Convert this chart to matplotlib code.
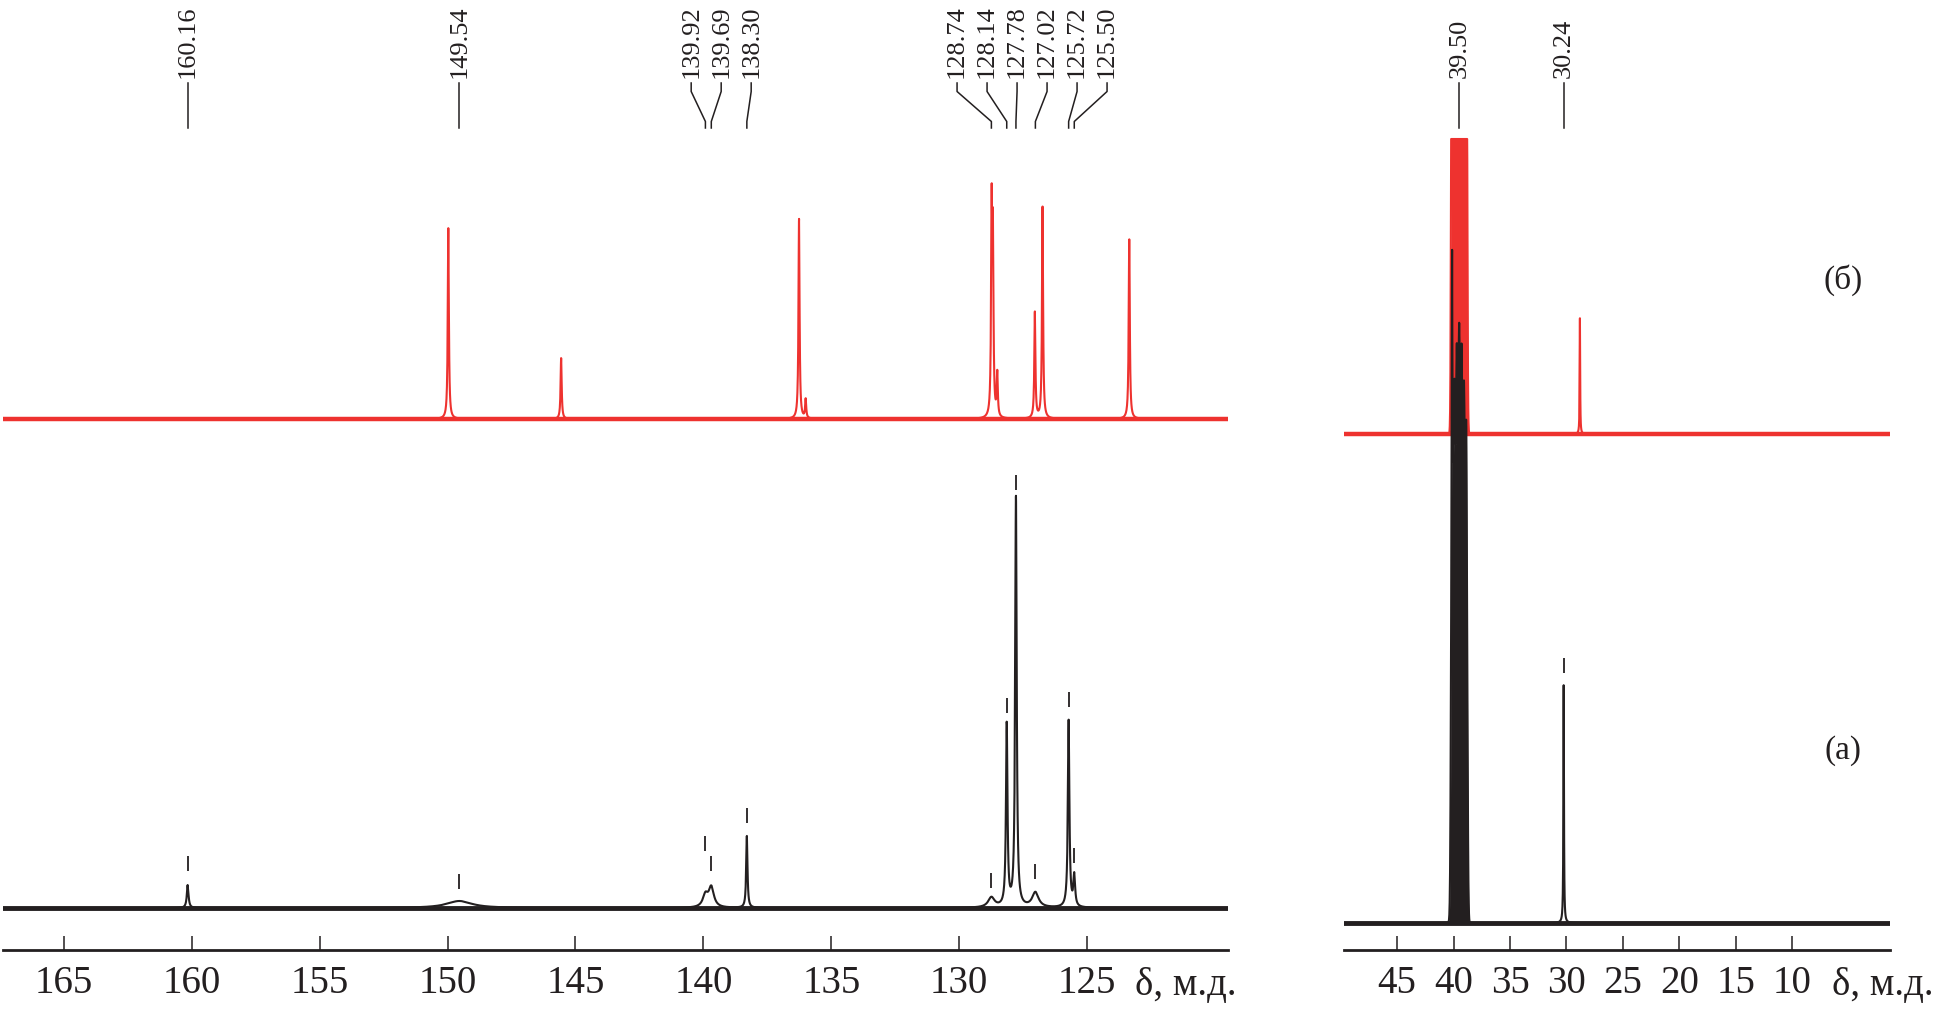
import numpy as np
import matplotlib.pyplot as plt
from matplotlib.transforms import blended_transform_factory

plt.rcParams['font.family'] = ['Liberation Serif', 'DejaVu Serif']

# -------------------------------------------------
# picos: ppm, altura (px sobre la linea base), semiancho (ppm)
# espectro (a), negro, zona aromatica
a_arom_ppm = [160.16, 149.54, 139.92, 139.69, 138.30, 128.74, 128.14, 127.78, 127.02, 125.72, 125.50]
a_arom_h = [23, 7, 12, 20, 72, 10, 182, 410, 15, 187, 31]
a_arom_w = [0.04, 0.6, 0.12, 0.12, 0.03, 0.15, 0.035, 0.035, 0.15, 0.035, 0.04]
a_arom_marca = [37, 19, 57, 37, 85, 20, 195, 418, 29, 201, 45]

# espectro (б), rojo, zona aromatica
b_arom_ppm = [149.97, 145.56, 136.26, 136.00, 128.73, 128.68, 128.51, 127.04, 126.74, 123.35]
b_arom_h = [191, 61, 200, 19, 201, 169, 43, 106, 212, 180]

# zona alifatica: septete del DMSO (gaussianas) + picos finos
dmso_ppm = [40.13, 39.92, 39.71, 39.50, 39.29, 39.08, 38.87]
a_dmso_h = [480, 495, 530, 550, 530, 495, 475]
b_dmso_h = [600, 900, 1100, 1200, 1100, 900, 600]
b_recorte = 295

a_alif_ppm = [40.13, 30.24]
a_alif_h = [170, 238]
a_alif_marca = [None, 250]
b_alif_ppm = [28.80]
b_alif_h = [116]

etiq_izq = ['160.16', '149.54', '139.92', '139.69', '138.30', '128.74',
            '128.14', '127.78', '127.02', '125.72', '125.50']
etiq_der = ['39.50', '30.24']

ticks_izq = [165, 160, 155, 150, 145, 140, 135, 130, 125]
ticks_der = [45, 40, 35, 30, 25, 20, 15, 10]

ROJO = '#EE322F'
NEGRO = '#231F20'
W, H = 1943, 1013


def lorentz(x, ppm, alturas, anchos):
    y = np.zeros_like(x)
    for p, h, w in zip(ppm, alturas, anchos):
        y += h / (1 + ((x - p) / w) ** 2)
    return y


def gauss(x, ppm, alturas, s):
    y = np.zeros_like(x)
    for p, h in zip(ppm, alturas):
        y += h * np.exp(-0.5 * ((x - p) / s) ** 2)
    return y


def repartir(xs, sep):
    # separa las etiquetas que se pisan, centrando cada grupo
    grupos = [[v] for v in xs]
    while True:
        pos = []
        for g in grupos:
            c = np.mean(g)
            pos.append([c + sep * (i - (len(g) - 1) / 2) for i in range(len(g))])
        junto = False
        for i in range(len(grupos) - 1):
            if pos[i + 1][0] - pos[i][-1] < sep:
                grupos[i] = grupos[i] + grupos[i + 1]
                del grupos[i + 1]
                junto = True
                break
        if not junto:
            return [v for p in pos for v in p]


def fy(ypx):
    return 1 - ypx / H


fig = plt.figure(figsize=(W / 100, H / 100), dpi=100)
ax1 = fig.add_axes([3 / W, fy(950), 1225 / W, 950 / H])
ax2 = fig.add_axes([1344 / W, fy(950), 546 / W, 950 / H])

ax1.set_xlim(167.38, 119.49)
ax1.set_ylim(-42, 908)
ax2.set_xlim(49.71, 1.32)
ax2.set_ylim(-27, 923)

desp_rojo = 489

# panel izquierdo
x1 = np.linspace(119.49, 167.38, 14000)
y_rojo = lorentz(x1, b_arom_ppm, b_arom_h, [0.025] * len(b_arom_ppm))
y_negro = lorentz(x1, a_arom_ppm, a_arom_h, a_arom_w)
ax1.plot(x1, y_rojo + desp_rojo, color=ROJO, lw=1.5, zorder=2)
ax1.axhline(desp_rojo, color=ROJO, lw=3.2, zorder=2)
ax1.plot(x1, y_negro, color=NEGRO, lw=1.5, zorder=3)
ax1.axhline(0, color=NEGRO, lw=3.5, zorder=3)

# panel derecho
x2 = np.linspace(1.32, 49.71, 16000)
zona = (x2 > 38.3) & (x2 < 40.7)
y_rojo2 = np.minimum(gauss(x2, dmso_ppm, b_dmso_h, 0.07), b_recorte)
y_rojo2 += lorentz(x2, b_alif_ppm, b_alif_h, [0.025])
y_negro2 = gauss(x2, dmso_ppm, a_dmso_h, 0.085)
y_negro2 += lorentz(x2, a_alif_ppm, a_alif_h, [0.02, 0.03])
ax2.plot(x2, y_rojo2 + desp_rojo, color=ROJO, lw=1.5, zorder=2)
ax2.fill_between(x2, desp_rojo, y_rojo2 + desp_rojo, where=zona, color=ROJO, lw=0, zorder=2)
ax2.axhline(desp_rojo, color=ROJO, lw=3.2, zorder=2)
ax2.plot(x2, y_negro2, color=NEGRO, lw=1.5, zorder=3)
ax2.fill_between(x2, 0, y_negro2, where=zona, color=NEGRO, lw=0, zorder=3)
ax2.axhline(0, color=NEGRO, lw=3.5, zorder=3)

# marcas cortas sobre los picos elegidos
for p, m in zip(a_arom_ppm, a_arom_marca):
    ax1.vlines(p, m, m + 15, color=NEGRO, lw=1.3, zorder=4)
for p, m in zip(a_alif_ppm, a_alif_marca):
    if m is not None:
        ax2.vlines(p, m, m + 15, color=NEGRO, lw=1.3, zorder=4)


def etiquetas(ax, valores):
    ppm = [float(v) for v in valores]
    px = [ax.transData.transform((p, 0))[0] for p in ppm]
    orden = np.argsort(px)
    px_ord = [px[i] for i in orden]
    arriba = repartir(px_ord, 30)
    inv = ax.transData.inverted()
    tr = blended_transform_factory(ax.transData, fig.transFigure)
    for k, i in enumerate(orden):
        xa = inv.transform((arriba[k], 0))[0]
        xp = ppm[i]
        ax.plot([xa, xa, xp, xp], [fy(83), fy(91.5), fy(121.5), fy(128)],
                color=NEGRO, lw=1.1, transform=tr, clip_on=False)
        ax.text(xa, fy(78), valores[i], rotation=90, ha='center', va='bottom',
                fontsize=19, color=NEGRO, transform=tr)


fig.canvas.draw()
etiquetas(ax1, etiq_izq)
etiquetas(ax2, etiq_der)

for ax, tk in [(ax1, ticks_izq), (ax2, ticks_der)]:
    ax.set_xticks(tk)
    ax.set_xticklabels([str(t) for t in tk])
    ax.set_yticks([])
    for s in ['top', 'left', 'right']:
        ax.spines[s].set_visible(False)
    ax.spines['bottom'].set_linewidth(2)
    ax.spines['bottom'].set_color(NEGRO)
    ax.tick_params(axis='x', direction='in', length=10, width=1.1,
                   pad=11, labelsize=28, colors=NEGRO)
    ax.patch.set_visible(False)

fig.text(1135 / W, fy(985), 'δ, м.д.', fontsize=28, ha='left', va='center', color=NEGRO)
fig.text(1832 / W, fy(985), 'δ, м.д.', fontsize=28, ha='left', va='center', color=NEGRO)
fig.text(1843 / W, fy(280), '(б)', fontsize=24, ha='center', va='center', color=NEGRO)
fig.text(1843 / W, fy(751), '(а)', fontsize=24, ha='center', va='center', color=NEGRO)

fig.savefig('out.png', dpi=100)
